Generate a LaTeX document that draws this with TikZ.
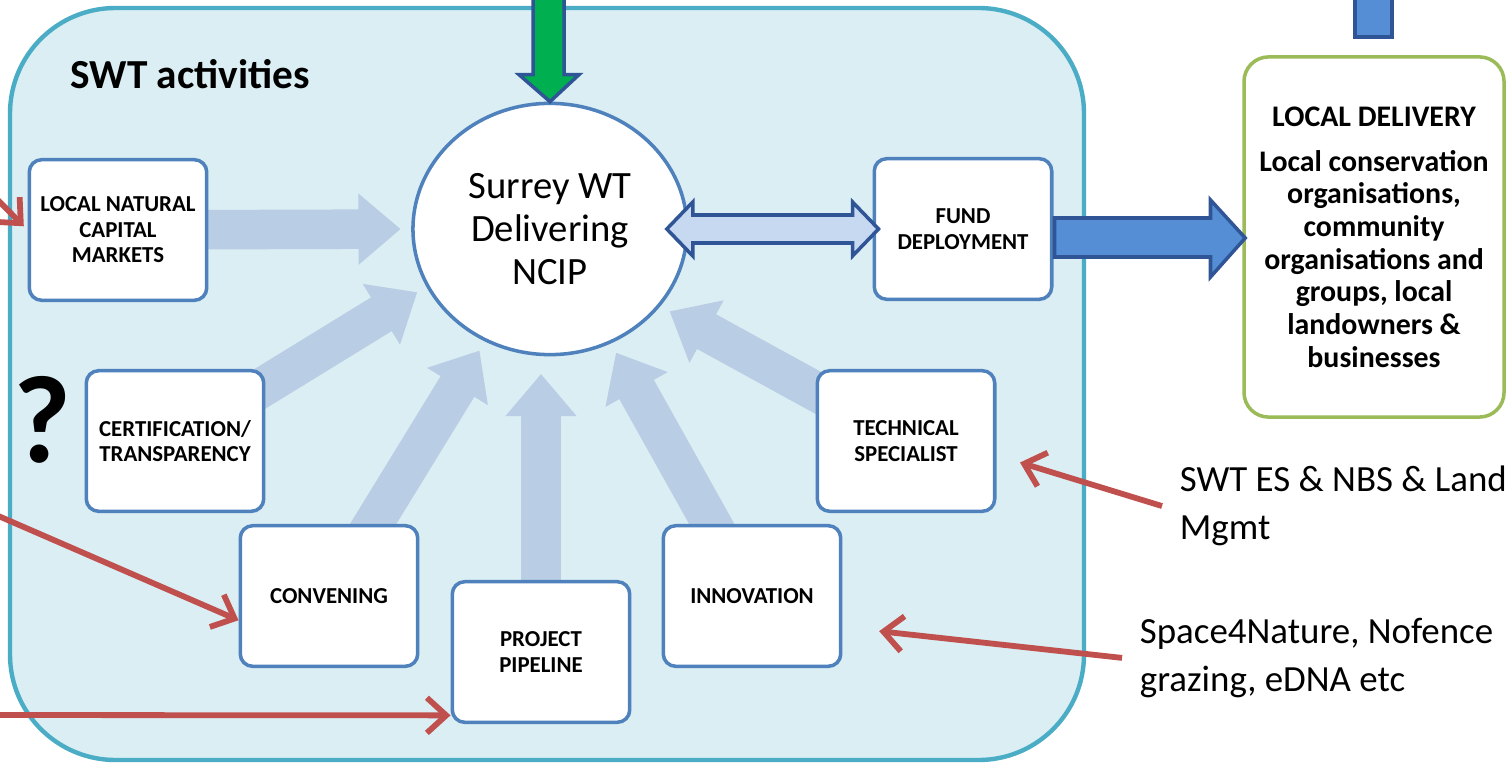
\documentclass[tikz,border=0pt]{standalone}
\usepackage{fontspec}
\setmainfont{Carlito}
\usetikzlibrary{arrows.meta,shapes.geometric,calc}

\definecolor{swtfill}{HTML}{DAEEF3}
\definecolor{swtedge}{HTML}{4BACC6}
\definecolor{boxedge}{HTML}{4F81BD}
\definecolor{fadearrow}{HTML}{B9CDE5}
\definecolor{darkedge}{HTML}{2F5597}
\definecolor{fundblue}{HTML}{558ED5}
\definecolor{paleblue}{HTML}{C6D9F1}
\definecolor{redarrow}{HTML}{C0504D}
\definecolor{greenedge}{HTML}{9BBB59}
\definecolor{greenarrow}{HTML}{00B050}

\pgfdeclarelayer{back}
\pgfdeclarelayer{feeds}
\pgfsetlayers{back,feeds,main}

\tikzset{
  activity/.style={draw=boxedge,line width=2pt,fill=white,rounded corners=7pt,minimum width=101pt,minimum height=80pt,align=center,font=\fontsize{13}{14.5}\selectfont\bfseries},
  feed/.style={fadearrow,line width=22.5pt,shorten >=6pt,-{Triangle[length=24pt,width=39pt]}},
  pointer/.style={redarrow,line width=3.3pt,-{Straight Barb[length=11pt,width=20pt]}},
  blockarrow/.style={draw=darkedge,line width=2pt,line join=miter},
  remark/.style={anchor=north west,align=left,inner xsep=10pt,inner ysep=0pt,font=\fontsize{21}{27}\selectfont},
}

\begin{document}
\begin{tikzpicture}[x=0.02cm,y=-0.02cm]
    \useasboundingbox (0,0) rectangle (1506,763);
    \clip (0,0) rectangle (1506,763);
    \begin{pgfonlayer}{back}
        \draw[swtedge,fill=swtfill,line width=2.5pt,rounded corners=60pt] (10,8) rectangle (1084,760);
    \end{pgfonlayer}

    \node[anchor=west,inner sep=0pt,font=\fontsize{23.5}{27}\selectfont\bfseries] (title) at (70,74) {SWT activities};
    \node[font=\fontsize{71}{71}\selectfont\bfseries,inner sep=0pt] (qmark) at (42,420) {?};

    % centre and activity boxes
    \node[ellipse,draw=boxedge,line width=2pt,fill=white,minimum width=156pt,minimum height=143pt,inner sep=0pt,align=center,font=\fontsize{22}{24.5}\selectfont] (ncip) at (550,229) {Surrey WT\\Delivering\\NCIP};
    \node[activity] (lncm) at (118,230) {LOCAL NATURAL\\CAPITAL\\MARKETS};
    \node[activity] (cert) at (175,441) {CERTIFICATION/\\TRANSPARENCY};
    \node[activity] (conv) at (329,596) {CONVENING};
    \node[activity] (pipe) at (541,652) {PROJECT\\PIPELINE};
    \node[activity] (innov) at (752,596) {INNOVATION};
    \node[activity] (tech) at (906,441) {TECHNICAL\\SPECIALIST};
    \node[activity] (fund) at (963,229) {FUND\\DEPLOYMENT};

    \node[draw=greenedge,line width=2pt,fill=white,rounded corners=14pt,minimum width=148pt,minimum height=205pt,align=center,font=\fontsize{17}{18.6}\selectfont\bfseries] (ldel) at (1374,237)
        {LOCAL DELIVERY\\[7pt]Local conservation\\organisations,\\community\\organisations and\\groups, local\\landowners \&\\businesses};

    \node[remark] (swtes) at (1162,466) {SWT ES \& NBS \& Land\\Mgmt};
    \node[remark] (space4) at (1122,618) {Space4Nature, Nofence\\grazing, eDNA etc};

    % faded arrows into the centre
    \begin{pgfonlayer}{feeds}
        \draw[feed] (lncm.center) -- (ncip.west);
        \draw[feed] (cert.center) -- (ncip.205);
        \draw[feed] (conv.center) -- (ncip.240);
        \draw[feed,shorten >=10pt] (pipe.center) -- (pipe.center |- ncip.south);
        \draw[feed] (innov.center) -- (ncip.298);
        \draw[feed] (tech.center) -- (ncip.325);
    \end{pgfonlayer}

    % block arrows
    \draw[blockarrow,fill=greenarrow] ($(ncip.north)+(-17,-110)$) -- ++(31,0) -- ++(0,83) -- ++(15,0) -- (ncip.north) -- ++(-31,-27) -- ++(14,0) -- cycle;
    \draw[blockarrow,fill=paleblue] ($(ncip.east)+(-22,0)$) -- ++(26,-27) -- ++(0,13) -- ($(fund.west)+(-20,-14)$) -- ++(0,-13) -- ++(26,27) -- ++(-26,27) -- ++(0,-13) -- ($(ncip.east)+(4,14)$) -- ++(0,13) -- cycle;
    \draw[blockarrow,fill=fundblue] ($(fund.east)+(1,-11)$) -- ++(156,0) -- ++(0,-18) -- ($(ldel.west)+(3,1)$) -- ($(fund.east)+(157,48)$) -- ++(0,-20) -- ++(-156,0) -- cycle;
    \draw[blockarrow,fill=fundblue] ($(ldel.north)+(-19,-61)$) rectangle ++(37,43);

    % red pointers
    \coordinate (lncmsrc) at (-30,172);
    \coordinate (convsrc) at (-20,508);
    \coordinate (pipesrc) at (-20,715);
    \draw[pointer,shorten >=3pt] (lncmsrc) -- (lncm.west);
    \draw[pointer] (convsrc) -- (conv.195);
    \draw[pointer] (pipesrc) -- (pipe.215);
    \draw[pointer,shorten >=14pt] (swtes.west) -- (tech.-9);
    \draw[pointer,shorten >=21pt] (space4.west) -- (innov.-19);
\end{tikzpicture}
\end{document}
